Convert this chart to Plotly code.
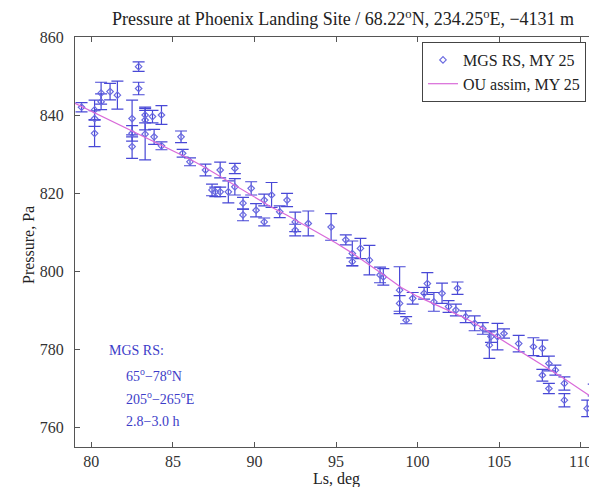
import plotly.graph_objects as go

# MGS RS observations (Ls in degrees, pressure in Pa, 1-sigma error in Pa)
mgs_ls = [79.4, 80.2, 80.2, 80.2, 80.6, 80.6, 81.15, 81.6, 82.9, 82.9,
          82.5, 82.5, 82.5, 83.3, 83.3, 83.3, 83.75, 84.3, 83.85, 84.3,
          85.5, 85.6, 86.05, 87.0, 87.9, 88.8, 87.4, 87.6, 87.9, 88.4,
          88.8, 89.3, 89.3, 89.8, 90.1, 90.6, 90.6, 91.05, 91.55, 92.0,
          92.5, 92.5, 93.3, 94.7, 95.6, 96.0, 96.0, 96.5, 97.05, 97.9,
          97.7, 98.9, 98.9, 99.3, 99.7, 100.4, 100.6, 101.0, 101.5, 102.45,
          101.9, 102.35, 102.95, 103.5, 104.0, 104.5, 104.4, 104.9, 105.3, 106.2,
          107.1, 107.65, 108.05, 107.65, 108.45, 108.05, 109.0, 109.0, 110.4, 110.8]
mgs_p = [842.0, 841.3, 839.1, 835.3, 843.4, 845.6, 846.0, 845.1, 852.4, 846.8,
         839.1, 835.3, 831.9, 840.0, 838.7, 835.1, 839.6, 840.0, 834.4, 832.1,
         834.4, 830.2, 828.0, 825.9, 825.9, 826.3, 820.8, 820.3, 820.3, 820.3,
         821.6, 817.4, 814.4, 821.2, 815.6, 812.6, 818.2, 819.5, 815.2, 818.2,
         812.6, 810.5, 812.2, 811.3, 808.0, 804.5, 802.4, 805.8, 802.8, 798.5,
         799.0, 795.1, 791.7, 787.4, 793.0, 794.3, 796.8, 792.1, 794.3, 795.6,
         790.9, 790.0, 788.3, 786.6, 785.3, 783.2, 781.0, 783.2, 784.0, 781.4,
         780.6, 780.2, 776.3, 773.3, 774.6, 769.9, 771.2, 766.9, 764.8, 769.5]
mgs_err = [1.2, 2.5, 2.0, 3.4, 2.0, 2.8, 2.1, 3.6, 1.2, 1.6,
           4.7, 2.0, 3.0, 2.0, 2.5, 6.6, 1.6, 2.4, 1.9, 1.0,
           1.5, 1.0, 1.0, 1.5, 2.0, 1.3, 1.5, 1.2, 1.2, 2.8,
           2.1, 1.5, 1.5, 1.7, 1.7, 1.0, 1.5, 3.2, 1.5, 1.7,
           2.5, 1.5, 3.2, 3.4, 1.3, 3.2, 1.0, 2.6, 3.8, 2.1,
           2.0, 6.0, 2.0, 0.9, 1.5, 1.5, 2.8, 2.4, 2.6, 1.6,
           1.5, 1.5, 1.5, 1.9, 1.5, 1.5, 3.4, 3.4, 1.2, 2.1,
           2.3, 2.1, 1.9, 1.5, 1.3, 1.3, 1.7, 1.7, 2.1, 1.5]

# OU assimilation curve
ou_ls = list(range(79, 112))
ou_p = [843.0, 841.0, 839.0, 837.0, 835.0, 833.0, 831.0, 828.8, 826.5, 824.0,
        821.5, 819.0, 816.5, 814.3, 812.0, 809.6, 807.2, 804.6, 801.8, 798.8,
        795.8, 793.5, 791.6, 789.8, 787.8, 785.4, 782.8, 780.3, 777.8, 775.2,
        772.4, 769.6, 766.8]

x_ticks = [80, 85, 90, 95, 100, 105, 110]
y_ticks = [760, 780, 800, 820, 840, 860]

serif = "Liberation Serif"
blue = "#4848d6"

# the page body has an 8px margin, so the figure is sized to end at the window edge
PAGE_OFF = 8
W, H = 597 - PAGE_OFF, 487 - PAGE_OFF

fig = go.Figure()
fig.add_trace(go.Scatter(
    x=mgs_ls, y=mgs_p, mode="markers", name="MGS RS, MY 25",
    marker=dict(symbol="diamond-open", size=5, color="#6a6ae0", line=dict(width=1.2)),
    error_y=dict(type="data", array=mgs_err, visible=True, color=blue,
                 thickness=1.2, width=6),
))
fig.add_trace(go.Scatter(
    x=ou_ls, y=ou_p, mode="lines", name="OU assim, MY 25",
    line=dict(color="#d96ad9", width=1.2),
))

# page-pixel -> paper coordinate helpers (plot area spans page x 75..597, y 37..447)
def px_x(px):
    return (px - 75) / 522.0

def px_y(py):
    return 1 - (py - 37) / 410.0

ann_font = dict(family=serif, size=14, color="#3c3cc8")
fig.add_annotation(x=px_x(107), y=px_y(350), xref="paper", yref="paper",
                   text="MGS RS:", showarrow=False, xanchor="left", yanchor="middle", font=ann_font)
fig.add_annotation(x=px_x(124), y=px_y(375), xref="paper", yref="paper",
                   text="65<sup>o</sup>\u221278<sup>o</sup>N", showarrow=False,
                   xanchor="left", yanchor="middle", font=ann_font)
fig.add_annotation(x=px_x(124), y=px_y(398), xref="paper", yref="paper",
                   text="205<sup>o</sup>\u2212265<sup>o</sup>E", showarrow=False,
                   xanchor="left", yanchor="middle", font=ann_font)
fig.add_annotation(x=px_x(124), y=px_y(421), xref="paper", yref="paper",
                   text="2.8\u22123.0 h", showarrow=False,
                   xanchor="left", yanchor="middle", font=ann_font)

# axis titles
title_font = dict(family=serif, size=16, color="#222222")
fig.add_annotation(x=px_x(336), y=px_y(479), xref="paper", yref="paper",
                   text="Ls, deg", showarrow=False, xanchor="center", yanchor="middle",
                   font=title_font)
fig.add_annotation(x=px_x(28), y=px_y(245), xref="paper", yref="paper",
                   text="Pressure, Pa", showarrow=False, xanchor="center", yanchor="middle",
                   textangle=-90, font=title_font)

axis_common = dict(
    showgrid=False, zeroline=False, showline=True, linecolor="#555555", linewidth=1,
    mirror="ticks", ticks="inside", ticklen=5, tickcolor="#555555",
    tickfont=dict(family=serif, size=16, color="#333333"), automargin=False,
)

fig.update_layout(
    width=W, height=H,
    margin=dict(l=75 - PAGE_OFF, r=0, t=37 - PAGE_OFF, b=40, autoexpand=False),
    paper_bgcolor="white", plot_bgcolor="white",
    title=dict(text="Pressure at Phoenix Landing Site / 68.22<sup>o</sup>N, 234.25<sup>o</sup>E, \u22124131 m",
               x=(343 - PAGE_OFF) / W, xanchor="center", y=1 - (19 - PAGE_OFF) / H, yanchor="middle",
               font=dict(family=serif, size=18, color="#222222")),
    xaxis=dict(range=[79, 111], tickvals=x_ticks, ticktext=[str(v) for v in x_ticks],
               **axis_common),
    yaxis=dict(range=[754.9, 860], tickvals=y_ticks, ticktext=[str(v) for v in y_ticks],
               ticklabelstandoff=7, **axis_common),
    legend=dict(x=px_x(422), y=px_y(42), xanchor="left", yanchor="top",
                bgcolor="white", bordercolor="#444444", borderwidth=1,
                font=dict(family=serif, size=16, color="#222222"),
                tracegroupgap=0, itemwidth=30),
    showlegend=True,
)

fig.write_html("out.html")
